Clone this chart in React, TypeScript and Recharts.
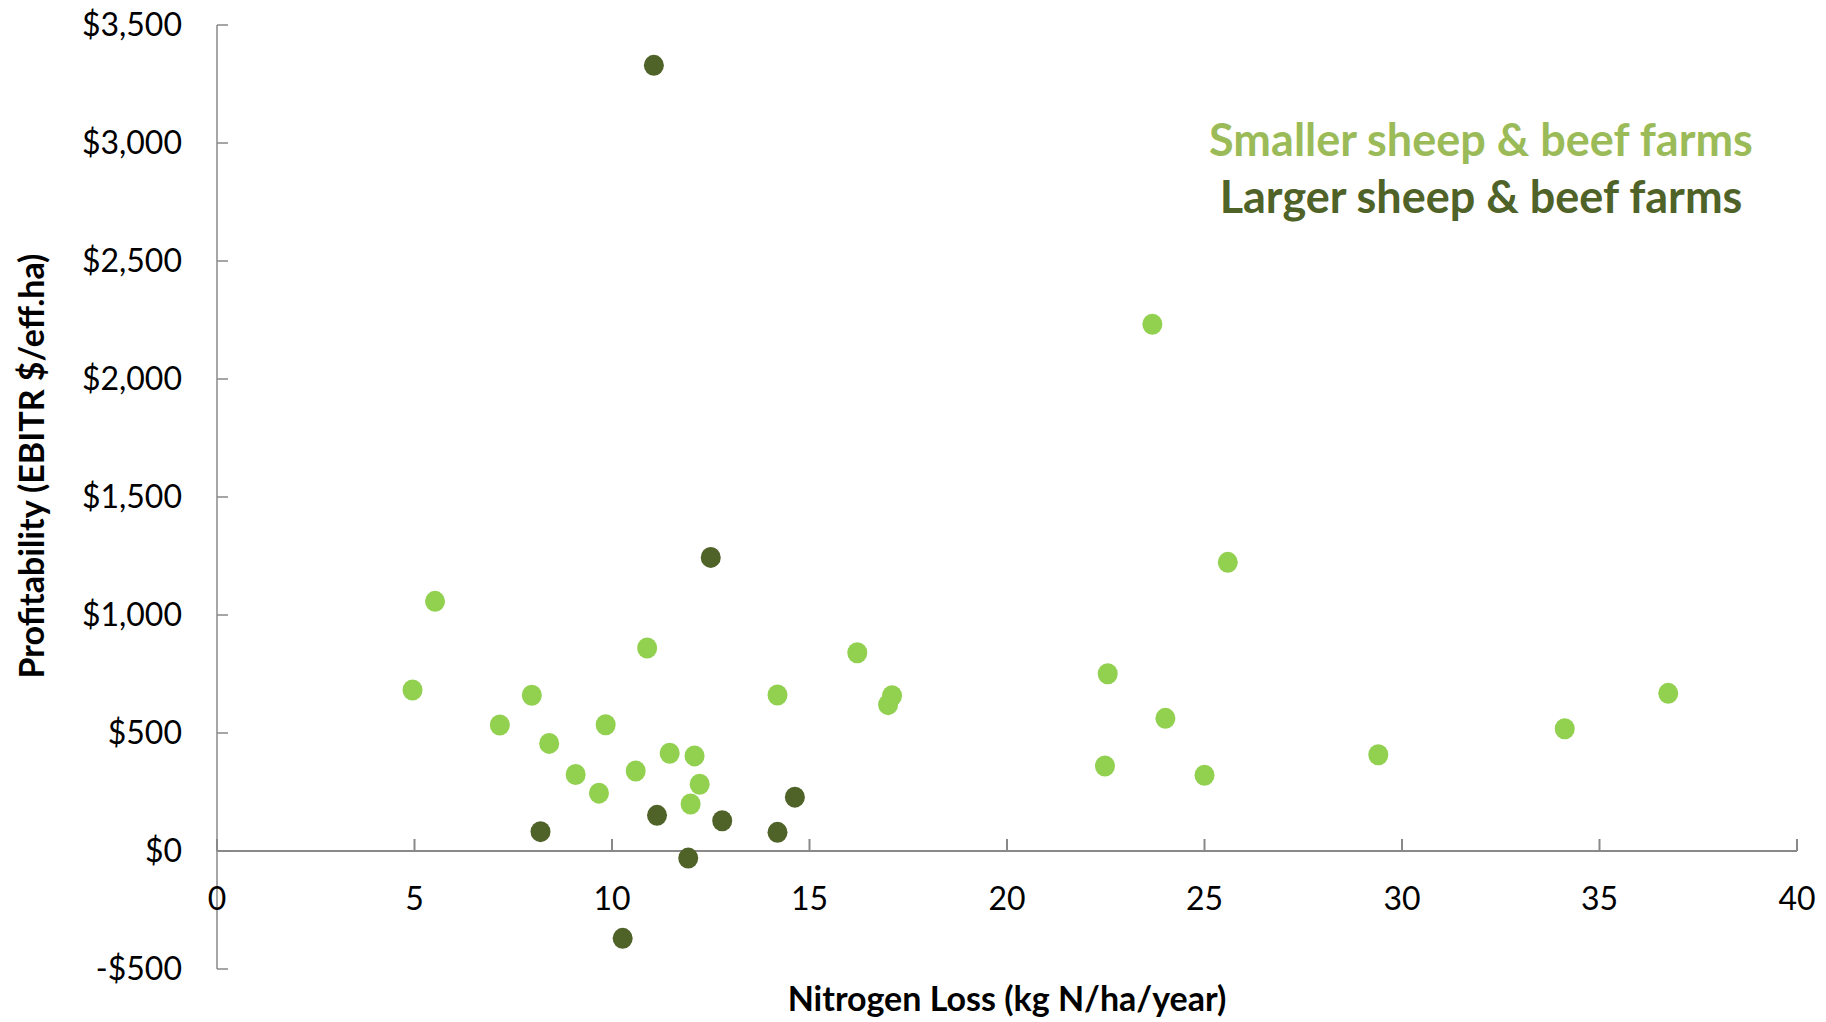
import React from 'react';
import { ScatterChart, Scatter, XAxis, YAxis, ReferenceLine } from 'recharts';

// Smaller sheep & beef farms: [Nitrogen loss kg N/ha/yr, EBITR $/eff.ha]
const smallerFarms = [
  { x: 4.95, y: 682 },
  { x: 5.52, y: 1058 },
  { x: 7.16, y: 534 },
  { x: 7.97, y: 660 },
  { x: 8.41, y: 456 },
  { x: 9.08, y: 324 },
  { x: 9.67, y: 245 },
  { x: 9.84, y: 535 },
  { x: 10.6, y: 339 },
  { x: 10.89, y: 860 },
  { x: 11.46, y: 414 },
  { x: 12.09, y: 403 },
  { x: 12.22, y: 283 },
  { x: 11.99, y: 199 },
  { x: 14.19, y: 661 },
  { x: 16.21, y: 840 },
  { x: 17.09, y: 658 },
  { x: 16.99, y: 620 },
  { x: 22.48, y: 360 },
  { x: 22.55, y: 751 },
  { x: 23.68, y: 2232 },
  { x: 24.01, y: 562 },
  { x: 25.0, y: 321 },
  { x: 25.59, y: 1223 },
  { x: 29.4, y: 408 },
  { x: 34.12, y: 518 },
  { x: 36.74, y: 668 },
];

// Larger sheep & beef farms
const largerFarms = [
  { x: 11.06, y: 3329 },
  { x: 12.5, y: 1244 },
  { x: 14.63, y: 228 },
  { x: 11.14, y: 151 },
  { x: 12.79, y: 128 },
  { x: 8.19, y: 82 },
  { x: 14.19, y: 79 },
  { x: 11.93, y: -30 },
  { x: 10.27, y: -370 },
];

const xTicks = [0, 5, 10, 15, 20, 25, 30, 35, 40];
const yTicks = [-500, 0, 500, 1000, 1500, 2000, 2500, 3000, 3500];

const seriesNames = ['Smaller sheep & beef farms', 'Larger sheep & beef farms'];
const dotColors = ['#92D050', '#4F6228'];
const legendColors = ['#9BBB59', '#4F6228'];

const xTitle = 'Nitrogen Loss (kg N/ha/year)';
const yTitle = 'Profitability (EBITR $/eff.ha)';

const FONT = 'Lato, "Open Sans", sans-serif';
const AXIS_GRAY = '#898989';

const xTickPoints = xTicks.map((v) => ({ x: v, y: 0 }));

const fmtDollar = (v: number) =>
  (v < 0 ? '-$' : '$') + Math.abs(v).toLocaleString('en-US');

const XTickShape = (props: any) => {
  const { cx, cy, payload } = props;
  return (
    <g>
      <line x1={cx} y1={cy} x2={cx} y2={cy - 12} stroke={AXIS_GRAY} strokeWidth={2} />
      <text
        x={cx}
        y={cy + 59}
        textAnchor="middle"
        fontFamily={FONT}
        fontSize={32}
        fill="#000"
      >
        {payload?.x}
      </text>
    </g>
  );
};

const Dot = (color: string) => (props: any) => {
  const { cx, cy } = props;
  return <ellipse cx={cx} cy={cy} rx={10} ry={10.5} fill={color} />;
};

const YTitleLabel = (props: any) => {
  const vb = props.viewBox || { x: 0, y: 25, width: 217, height: 944 };
  const cx = vb.x + 30;
  const cy = vb.y + vb.height / 2 - 31;
  return (
    <text
      x={cx}
      y={cy}
      transform={`rotate(-90, ${cx}, ${cy})`}
      textAnchor="middle"
      dominantBaseline="central"
      fontFamily={FONT}
      fontWeight={700}
      fontSize={34}
      fill="#000"
    >
      {yTitle}
    </text>
  );
};

const XTitleLabel = (props: any) => {
  const vb = props.viewBox || { x: 217, y: 969, width: 1580, height: 53 };
  const cx = vb.x + vb.width / 2;
  const cy = vb.y + 28;
  return (
    <text
      x={cx}
      y={cy}
      textAnchor="middle"
      dominantBaseline="central"
      fontFamily={FONT}
      fontWeight={700}
      fontSize={34}
      fill="#000"
    >
      {xTitle}
    </text>
  );
};

const LegendBlock = () => (
  <div
    style={{
      position: 'absolute',
      left: 1131,
      top: 111,
      width: 700,
      fontFamily: FONT,
      fontWeight: 700,
      fontSize: 45,
      lineHeight: '57px',
      textAlign: 'center',
      whiteSpace: 'nowrap',
    }}
  >
    {seriesNames.map((n, i) => (
      <div key={n} style={{ color: legendColors[i] }}>
        {n}
      </div>
    ))}
  </div>
);

export default function App() {
  return (
    <div style={{ position: 'absolute', left: 0, top: 0, width: 1826, height: 1022, background: '#fff' }}>
      <ScatterChart width={1826} height={1022} margin={{ top: 25, right: 29, bottom: 0, left: 0 }}>
        <XAxis
          type="number"
          dataKey="x"
          domain={[0, 40]}
          ticks={xTicks}
          tick={false}
          tickLine={false}
          axisLine={false}
          height={53}
          label={<XTitleLabel />}
        />
        <YAxis
          type="number"
          dataKey="y"
          domain={[-500, 3500]}
          ticks={yTicks}
          interval={0}
          width={217}
          tickFormatter={fmtDollar}
          tick={{ fontSize: 32, fill: '#000', fontFamily: FONT }}
          axisLine={{ stroke: AXIS_GRAY, strokeWidth: 1.5 }}
          tickLine={{ stroke: AXIS_GRAY, strokeWidth: 1.5 }}
          tickSize={-11}
          tickMargin={46}
          label={<YTitleLabel />}
        />
        <ReferenceLine y={0} stroke={AXIS_GRAY} strokeWidth={2} />
        <Scatter
          name="x-ticks"
          data={xTickPoints}
          legendType="none"
          isAnimationActive={false}
          shape={<XTickShape />}
        />
        <Scatter
          name={seriesNames[0]}
          data={smallerFarms}
          fill={dotColors[0]}
          isAnimationActive={false}
          shape={Dot(dotColors[0])}
        />
        <Scatter
          name={seriesNames[1]}
          data={largerFarms}
          fill={dotColors[1]}
          isAnimationActive={false}
          shape={Dot(dotColors[1])}
        />
      </ScatterChart>
      <LegendBlock />
    </div>
  );
}
